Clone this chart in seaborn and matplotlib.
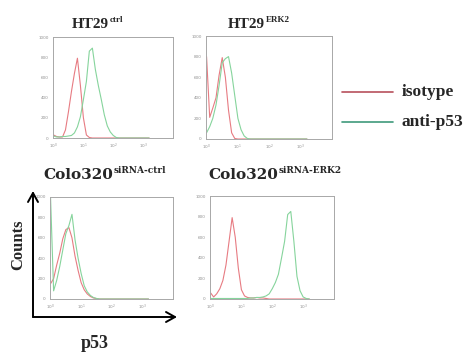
import numpy as np
import pandas as pd
import matplotlib
matplotlib.use("Agg")
import matplotlib.pyplot as plt
import seaborn as sns

sns.set_style("white")

# =========================
# DATA
# =========================

# p53 fluorescence channels, 0.1 decade apart from 10^0 to 10^3.2
p53_intensity = [1, 1.26, 1.58, 2.0, 2.51, 3.16, 3.98, 5.01, 6.31, 7.94,
                 10, 12.6, 15.8, 20.0, 25.1, 31.6, 39.8, 50.1, 63.1, 79.4,
                 100, 126, 158, 200, 251, 316, 398, 501, 631, 794,
                 1000, 1259, 1585]

ht29_ctrl_isotype = [30, 15, 10, 10, 80, 260, 460, 640, 790, 520,
                     200, 30, 5, 0, 0, 0, 0, 0, 0, 0,
                     0, 0, 0, 0, 0, 0, 0, 0, 0, 0, 0, 0, 0]
ht29_ctrl_p53 = [20, 10, 10, 15, 15, 20, 25, 50, 110, 210,
                 380, 560, 860, 890, 680, 520, 380, 230, 120, 60,
                 25, 5, 0, 0, 0, 0, 0, 0, 0, 0, 0, 0, 0]

ht29_erk2_isotype = [800, 210, 300, 400, 620, 790, 600, 280, 60, 5,
                     0, 0, 0, 0, 0, 0, 0, 0, 0, 0,
                     0, 0, 0, 0, 0, 0, 0, 0, 0, 0, 0, 0, 0]
ht29_erk2_p53 = [60, 120, 200, 330, 520, 740, 780, 800, 640, 420,
                 200, 90, 30, 5, 0, 0, 0, 0, 0, 0,
                 0, 0, 0, 0, 0, 0, 0, 0, 0, 0, 0, 0, 0]

colo_ctrl_isotype = [150, 200, 330, 450, 590, 680, 700, 600, 420, 280,
                     160, 90, 50, 25, 10, 5, 0, 0, 0, 0,
                     0, 0, 0, 0, 0, 0, 0, 0, 0, 0, 0, 0, 0]
colo_ctrl_p53 = [1000, 80, 180, 320, 480, 640, 720, 830, 580, 400,
                 250, 130, 70, 35, 15, 5, 0, 0, 0, 0,
                 0, 0, 0, 0, 0, 0, 0, 0, 0, 0, 0, 0, 0]

colo_erk2_isotype = [60, 20, 50, 100, 180, 330, 560, 790, 600, 300,
                     90, 30, 15, 10, 10, 15, 10, 10, 5, 0,
                     0, 0, 0, 0, 0, 0, 0, 0, 0, 0, 0, 0, 0]
colo_erk2_p53 = [5, 5, 5, 5, 5, 5, 5, 5, 5, 5,
                 5, 5, 5, 10, 10, 15, 15, 20, 30, 50,
                 100, 160, 240, 400, 560, 820, 850, 560, 220, 80,
                 20, 5, 0]

panel_names = ["HT29", "HT29", "Colo320", "Colo320"]
panel_sups = ["ctrl", "ERK2", "siRNA-ctrl", "siRNA-ERK2"]
panel_curves = [(ht29_ctrl_isotype, ht29_ctrl_p53),
                (ht29_erk2_isotype, ht29_erk2_p53),
                (colo_ctrl_isotype, colo_ctrl_p53),
                (colo_erk2_isotype, colo_erk2_p53)]

stain_labels = ["isotype", "anti-p53"]
curve_colors = {"isotype": "#e77b82", "anti-p53": "#86d49c"}
legend_colors = ["#b8505c", "#3f9a7c"]

x_ticks = [1, 10, 100, 1000]
x_tick_labels = [r"$10^0$", r"$10^1$", r"$10^2$", r"$10^3$"]
y_ticks = [0, 200, 400, 600, 800, 1000]

# long table for seaborn
rows = []
for i, (iso, p53) in enumerate(panel_curves):
    for stain, counts in zip(stain_labels, (iso, p53)):
        for x, c in zip(p53_intensity, counts):
            rows.append({"panel": i, "stain": stain, "intensity": x, "counts": c})
df = pd.DataFrame(rows)

# =========================
# FIGURE
# =========================

W, H = 472, 354
fig = plt.figure(figsize=(W / 100, H / 100), dpi=100)

def px(x0, y0, x1, y1):
    # pixel box -> figure fraction rect
    return [x0 / W, 1 - y1 / H, (x1 - x0) / W, (y1 - y0) / H]

boxes = [px(53, 37, 173, 138), px(206, 36, 332, 139),
         px(50, 197, 173, 299), px(210, 196, 334, 299)]

for i, box in enumerate(boxes):
    ax = fig.add_axes(box)
    sub = df[df["panel"] == i]
    sns.lineplot(data=sub, x="intensity", y="counts", hue="stain",
                 palette=curve_colors, ax=ax, legend=False, linewidth=0.8)
    ax.set_xscale("log")
    ax.set_xlim(0.96, 10000)
    ax.set_ylim(0, 1000)
    ax.set_xticks(x_ticks)
    ax.set_xticklabels(x_tick_labels)
    ax.minorticks_off()
    ax.set_yticks(y_ticks)
    ax.set_yticklabels([str(v) for v in y_ticks])
    ax.tick_params(labelsize=3, colors="#909090", length=1.5, width=0.5, pad=1.5)
    ax.set_xlabel("")
    ax.set_ylabel("")
    for s in ax.spines.values():
        s.set_color("#a8a8a8")
        s.set_linewidth(0.7)

# titles with superscripts
title_pos = [(72, 28), (228, 28), (43, 179), (208, 179)]
title_fonts = ["Liberation Serif", "Liberation Serif", "DejaVu Serif", "DejaVu Serif"]
fig.canvas.draw()
renderer = fig.canvas.get_renderer()
for (x, y), name, sup, fam in zip(title_pos, panel_names, panel_sups, title_fonts):
    t = fig.text(x / W, 1 - y / H, name, fontsize=11, fontweight="bold",
                 family=fam, ha="left", va="baseline")
    bb = t.get_window_extent(renderer)
    fig.text((bb.x1 + 1) / W, 1 - (y - 6) / H, sup, fontsize=6.5,
             fontweight="bold", family=fam, ha="left", va="baseline")

# legend
for lab, col, y in zip(stain_labels, legend_colors, [92, 122]):
    fig.add_artist(plt.Line2D([342 / W, 393 / W], [1 - y / H, 1 - y / H],
                              color=col, linewidth=1.2))
    fig.text(402 / W, 1 - y / H, lab, fontsize=12.5, fontweight="bold",
             family="Liberation Serif", ha="left", va="center")

# axis arrows
ox, oy = 33 / W, 1 - 317 / H
fig.add_artist(plt.Line2D([ox, ox], [oy, 1 - 193 / H], color="black", linewidth=1.4))
fig.add_artist(plt.Line2D([ox, 175 / W], [oy, oy], color="black", linewidth=1.4))
fig.add_artist(plt.Line2D([ox - 5 / W, ox, ox + 5 / W],
                          [1 - 202 / H, 1 - 193 / H, 1 - 202 / H],
                          color="black", linewidth=1.4))
fig.add_artist(plt.Line2D([166 / W, 175 / W, 166 / W],
                          [1 - 312 / H, oy, 1 - 322 / H],
                          color="black", linewidth=1.4))

fig.text(18 / W, 1 - 245 / H, "Counts", rotation=90, fontsize=12,
         fontweight="bold", family="Liberation Serif", ha="center", va="center")
fig.text(95 / W, 1 - 343 / H, "p53", fontsize=13, fontweight="bold",
         family="Liberation Serif", ha="center", va="center")

fig.savefig("out.png", dpi=100)
